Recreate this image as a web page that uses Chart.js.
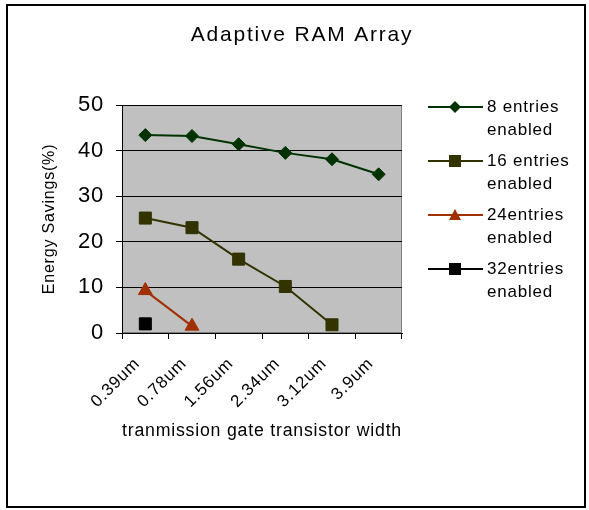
<!DOCTYPE html>
<html>
<head>
<meta charset="utf-8">
<script src="https://cdn.jsdelivr.net/npm/chart.js@4"></script>
<style>
  html, body { margin: 0; padding: 0; background: #fff; }
  #wrap { width: 589px; height: 510px; }
</style>
</head>
<body>
<div id="wrap"><canvas id="ramChart"></canvas></div>
<script>
var widths = ["0.39um", "0.78um", "1.56um", "2.34um", "3.12um", "3.9um"];
var entries8 = [43.4, 43.2, 41.4, 39.5, 38.1, 34.8];
var entries16 = [25.2, 23.1, 16.2, 10.2, 1.8, null];
var entries24 = [9.3, 1.5, null, null, null, null];
var entries32 = [2.0, null, null, null, null, null];
var seriesNames = [["8 entries", "enabled"], ["16 entries", "enabled"], ["24entries", "enabled"], ["32entries", "enabled"]];
var yTicks = [0, 10, 20, 30, 40, 50];

var FONT = "'Liberation Sans', Arial, sans-serif";

// frame, title, plot background and the legend are drawn here
var decor = {
  id: "decor",
  beforeLayout: function (chart) {
    chart.ctx.letterSpacing = "0.8px";
  },
  beforeDraw: function (chart) {
    var c = chart.ctx, a = chart.chartArea;
    c.letterSpacing = "0.8px";
    c.save();
    c.fillStyle = "#c0c0c0";
    c.fillRect(a.left, a.top, a.right - a.left, a.bottom - a.top);
    c.strokeStyle = "#808080";
    c.lineWidth = 1;
    c.strokeRect(a.left + 0.5, a.top + 0.5, a.right - a.left - 1, a.bottom - a.top - 1);
    c.restore();
  },
  afterDraw: function (chart) {
    var c = chart.ctx;
    c.save();
    c.strokeStyle = "#000";
    c.lineWidth = 2;
    c.strokeRect(7, 5, 578, 502);
    c.fillStyle = "#000";
    c.letterSpacing = "1.8px";
    c.font = "21px " + FONT;
    c.textAlign = "center";
    c.textBaseline = "middle";
    c.fillText("Adaptive RAM Array", 302, 35);

    c.letterSpacing = "0.8px";
    c.font = "17px " + FONT;
    c.textAlign = "left";
    chart.data.datasets.forEach(function (ds, i) {
      var y = 107 + i * 54;
      c.strokeStyle = ds.borderColor;
      c.lineWidth = 2;
      c.beginPath();
      c.moveTo(428, y);
      c.lineTo(483, y);
      c.stroke();
      c.fillStyle = ds.backgroundColor;
      var s = 6;
      c.beginPath();
      if (ds.pointStyle === "rectRot") {
        c.moveTo(455, y - s); c.lineTo(455 + s, y); c.lineTo(455, y + s); c.lineTo(455 - s, y);
      } else if (ds.pointStyle === "triangle") {
        c.moveTo(455, y - s); c.lineTo(455 + s, y + s - 1); c.lineTo(455 - s, y + s - 1);
      } else {
        c.rect(455 - 6, y - 6, 12, 12);
      }
      c.closePath();
      c.fill();
      c.fillStyle = "#000";
      c.fillText(seriesNames[i][0], 487, y);
      c.fillText(seriesNames[i][1], 487, y + 23);
    });
    c.restore();
  }
};

function series(data, color, style, radius) {
  return {
    data: data,
    borderColor: color,
    backgroundColor: color,
    borderWidth: 2,
    pointStyle: style,
    pointRadius: radius,
    pointBorderWidth: 1,
    pointHoverRadius: radius,
    spanGaps: false,
    tension: 0
  };
}

new Chart(document.getElementById("ramChart"), {
  type: "line",
  data: {
    labels: widths,
    datasets: [
      series(entries8, "#003300", "rectRot", 6.5),
      series(entries16, "#333300", "rect", 8.5),
      series(entries24, "#a03000", "triangle", 8),
      series(entries32, "#000000", "rect", 8.5)
    ]
  },
  options: {
    responsive: true,
    maintainAspectRatio: false,
    animation: false,
    events: [],
    layout: { padding: { left: 40, right: 187, top: 105, bottom: 68 } },
    plugins: {
      legend: { display: false },
      title: { display: false },
      tooltip: { enabled: false }
    },
    scales: {
      x: {
        offset: true,
        grid: { offset: true, drawOnChartArea: false, drawTicks: true, tickLength: 6, color: "#000" },
        border: { color: "#000", width: 1 },
        ticks: {
          color: "#000",
          font: { family: FONT, size: 17 },
          minRotation: 45,
          maxRotation: 45,
          padding: 15,
          labelOffset: -8
        },
        title: {
          display: true,
          text: "tranmission gate transistor width",
          color: "#000",
          font: { family: FONT, size: 18 },
          padding: 0
        },
        afterFit: function (s) { s.height = 109; }
      },
      y: {
        min: 0,
        max: 50,
        afterBuildTicks: function (s) { s.ticks = yTicks.map(function (v) { return { value: v }; }); },
        grid: { color: "#000", tickLength: 6, lineWidth: 1 },
        border: { color: "#000", width: 1 },
        ticks: {
          color: "#000",
          font: { family: FONT, size: 22 },
          padding: 12
        },
        title: {
          display: true,
          text: "Energy Savings(%)",
          color: "#000",
          font: { family: FONT, size: 16 },
          padding: 0
        },
        afterFit: function (s) { s.width = 82; }
      }
    }
  },
  plugins: [decor]
});
</script>
</body>
</html>
